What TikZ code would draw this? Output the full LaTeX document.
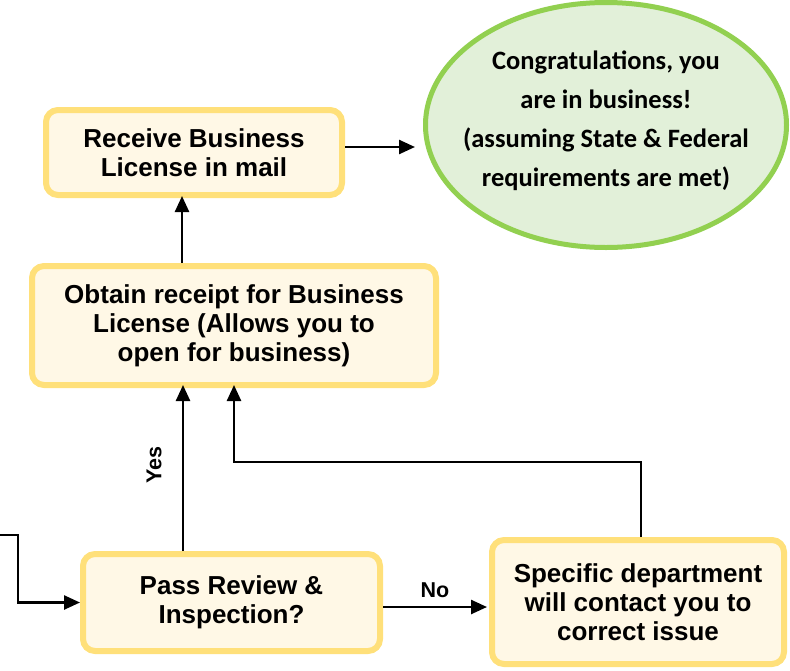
\documentclass[tikz,border=0pt]{standalone}
\usepackage{fontspec}
\setmainfont{Liberation Sans}
\newfontfamily\calib{Carlito}
\usetikzlibrary{shapes.geometric,arrows.meta}
\definecolor{ybord}{HTML}{FFE07A}
\definecolor{yfill}{HTML}{FFF8E6}
\definecolor{gbord}{HTML}{92D050}
\definecolor{gfill}{HTML}{E2F0D9}
\tikzset{
  x=1pt,y=-1pt,
  ybox/.style={draw=ybord,fill=yfill,line width=6pt,rounded corners=12pt,align=center,inner sep=0pt,
    font=\fontsize{26}{29}\selectfont\bfseries},
  arr/.style={line width=2.5pt,-{Triangle[length=16pt,width=14pt]}},
  lbl/.style={font=\fontsize{21.5}{24}\selectfont\bfseries,inner sep=0pt}
}
\begin{document}
\begin{tikzpicture}
\useasboundingbox (0,0) rectangle (790,670);
\node[ellipse,draw=gbord,fill=gfill,line width=5pt,minimum width=361pt,minimum height=245pt,inner sep=0pt] (cong) at (606,125) {};
\node[align=center,inner sep=0pt,font=\calib\fontsize{26.5}{39}\selectfont\bfseries] (congtext) at (606,121)
  {Congratulations, you\\are in business!\\(assuming State \& Federal\\requirements are met)};
\node[ybox,minimum width=296pt,minimum height=85pt] (recv) at (194,152.5) {Receive Business\\License in mail};
\node[ybox,minimum width=404pt,minimum height=119pt] (obt) at (234,325.5) {Obtain receipt for Business\\License (Allows you to\\open for business)};
\node[ybox,minimum width=297pt,minimum height=97pt] (pass) at (231.5,602.5) {Pass Review \&\\Inspection?};
\node[ybox,minimum width=292pt,minimum height=124pt] (spec) at (638,602) {Specific department\\will contact you to\\correct issue};
\node[lbl,rotate=90] (yes) at (154,465) {Yes};
\coordinate (xa) at (182,0);
\coordinate (xb) at (183,0);
\coordinate (xc) at (234,0);
\coordinate (xd) at (641,0);
\coordinate (start) at (0,535);
\coordinate (bend) at (18,535);
\coordinate (loopy) at (0,462);
% receive -> congratulations
\draw[arr] (recv.east |- 0,147) -- ([xshift=-8pt]cong.west |- 0,147);
% obtain -> receive
\draw[arr] (obt.north -| xa) -- ([yshift=2pt]recv.south -| xa);
% pass -> obtain (Yes)
\draw[arr] (pass.north -| xb) -- ([yshift=3pt]obt.south -| xb);
% specific -> obtain
\draw[arr] (spec.north -| xd) -- (loopy -| xd) -- (loopy -| xc) -- ([yshift=3pt]obt.south -| xc);
% incoming
\draw[arr] (start) -- (bend) -- (bend |- pass.west) -- (pass.west);
% pass -> specific (No)
\draw[arr] (pass.east |- 0,607) -- node[lbl,above=8pt] {No} ([xshift=-2pt]spec.west |- 0,607);
\end{tikzpicture}
\end{document}
